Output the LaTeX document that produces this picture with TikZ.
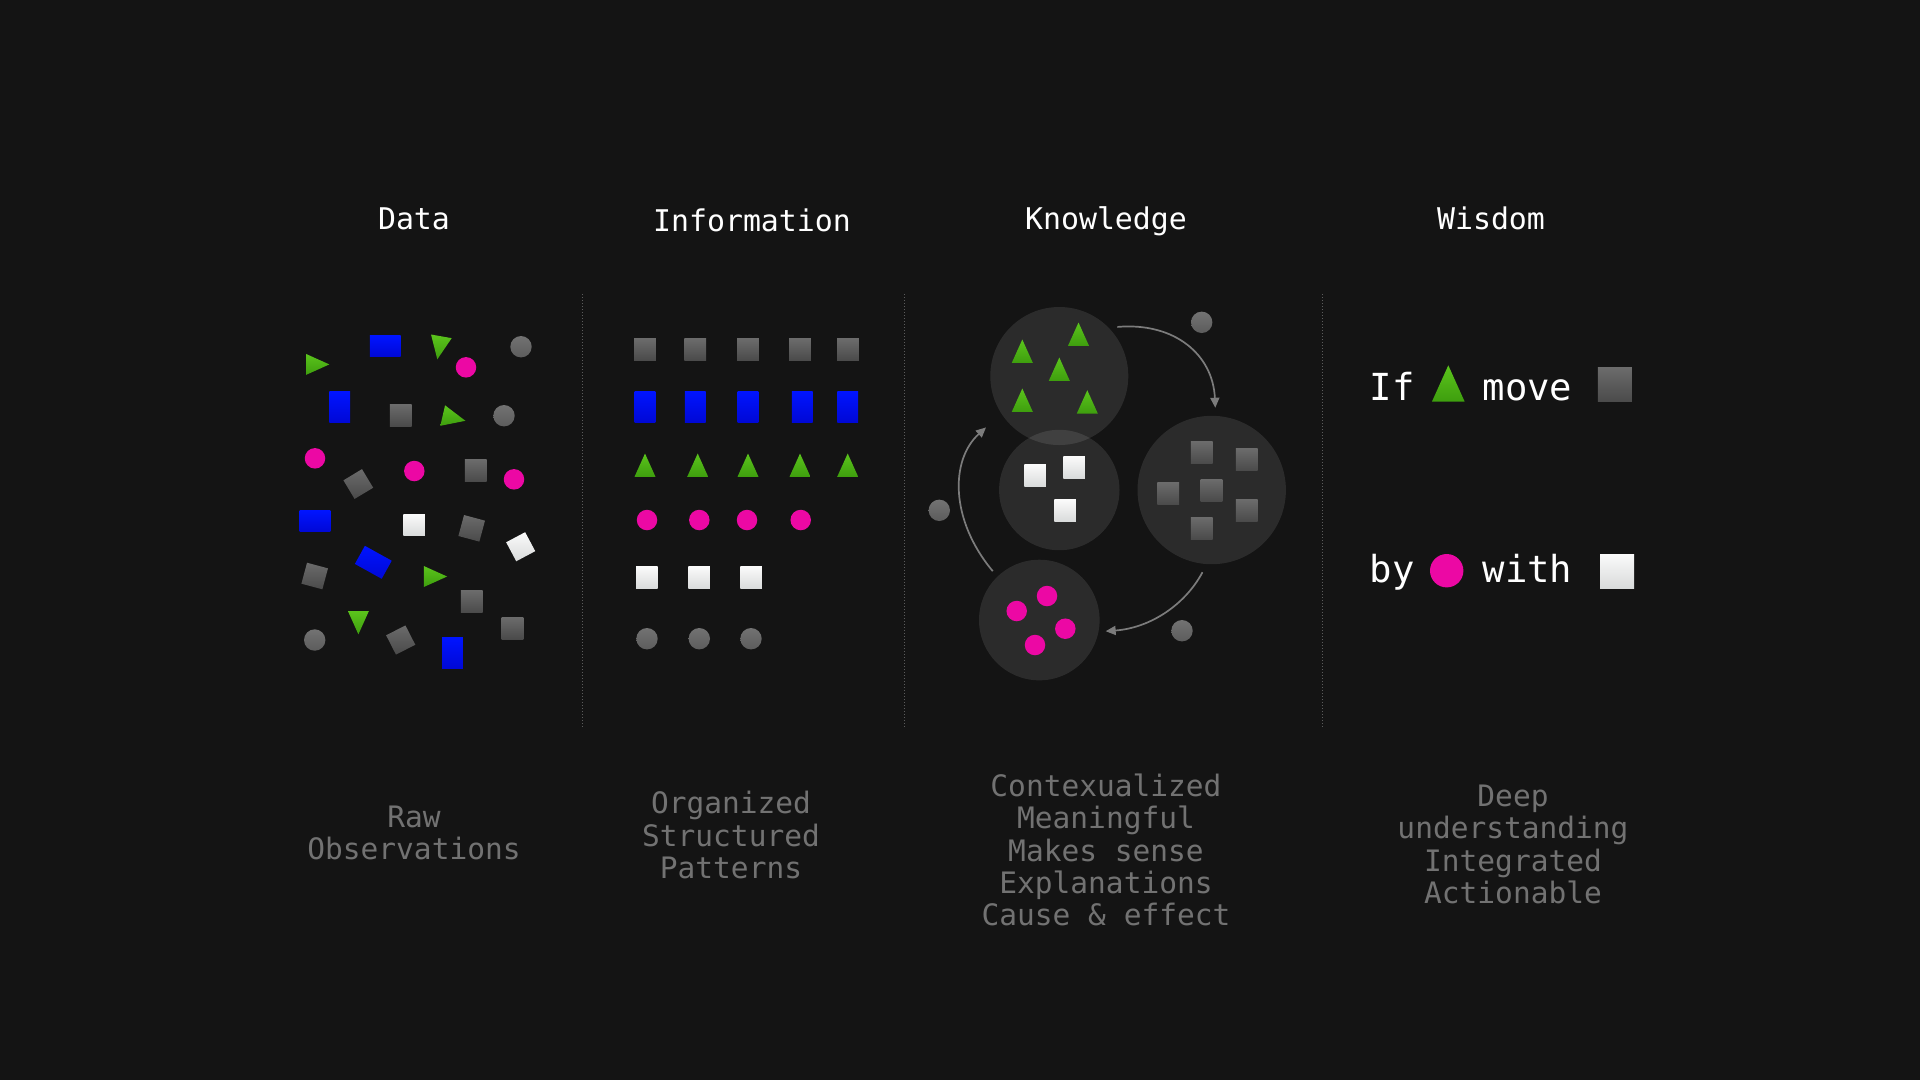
\documentclass[tikz,border=0pt]{standalone}
\usepackage{fontspec}
\setmonofont{DejaVu Sans Mono}
\usetikzlibrary{arrows.meta}
\definecolor{bgc}{HTML}{141414}
\definecolor{grayA}{HTML}{6B6B6B}
\definecolor{grayB}{HTML}{4A4A4A}
\definecolor{whiteA}{HTML}{FAFAFA}
\definecolor{whiteB}{HTML}{D9DBDB}
\definecolor{blueA}{HTML}{0014FF}
\definecolor{blueB}{HTML}{0008D6}
\definecolor{greenA}{HTML}{5BC41C}
\definecolor{greenB}{HTML}{3E9E0E}
\definecolor{pinkc}{HTML}{EC08A4}
\definecolor{txtgray}{HTML}{727272}
\definecolor{sepgray}{HTML}{5C5C5C}
\definecolor{arrgray}{HTML}{7C7C7C}

\begin{document}
\begin{tikzpicture}[x=0.1mm, y=-0.1mm, >=Stealth,
  gsq/.style={rectangle, inner sep=0, minimum size=2.17mm, top color=grayA, bottom color=grayB},
  wsq/.style={rectangle, inner sep=0, minimum size=2.15mm, top color=whiteA, bottom color=whiteB},
  bbox/.style={rectangle, inner sep=0, minimum width=3.07mm, minimum height=2.07mm, top color=blueA, bottom color=blueB},
  pdot/.style={circle, inner sep=0, minimum size=2.05mm, fill=pinkc},
  gdot/.style={circle, inner sep=0, minimum size=2.14mm, top color=grayA!95, bottom color=grayB!90!white},
  head/.style={font=\fontsize{8.5}{10}\selectfont\ttfamily, text=white, inner sep=0, anchor=base},
  note/.style={font=\fontsize{8.4}{9.2}\selectfont\ttfamily, text=txtgray, align=center, inner sep=0},
  wtxt/.style={font=\fontsize{10.6}{12}\selectfont\ttfamily, text=white, inner sep=0, anchor=base west},
  divider/.style={draw=sepgray, line width=0.1mm, dash pattern=on 0.12mm off 0.18mm},
  pool/.style={circle, inner sep=0, fill=white, fill opacity=0.1},
  cyc/.style={draw=arrgray, line width=0.17mm, -{Triangle[length=1mm,width=0.9mm]}},
  tri/.pic={\path[top color=greenA, bottom color=greenB] (0,-15.5) -- (10.5,7.8) -- (-10.5,7.8) -- cycle;}
]
\fill[bgc] (0,0) rectangle (1920,1080);

% headings
\node[head] (hdata) at (414,229.3) {Data};
\node[head] (hinfo) at (752,231.8) {Information};
\node[head] (hknow) at (1106,229.3) {Knowledge};
\node[head] (hwis) at (1491,229.3) {Wisdom};

\draw[divider] (582,294) -- (582,727);
\draw[divider] (904,294) -- (904,727);
\draw[divider] (1322,294) -- (1322,727);

% data
\pic[rotate=-90] at (313.8,364.4) {tri};
\node[bbox] (d2) at (385.3,346.3) {};
\pic[rotate=170] at (440,344) {tri};
\node[pdot] (d4) at (466,367.3) {};
\node[gdot] (d5) at (521,346.7) {};
\node[bbox, rotate=90] (d6) at (339.7,407.3) {};
\node[gsq] (d7) at (400.8,415.5) {};
\pic[rotate=-103] at (450.3,417.3) {tri};
\node[gdot] (d9) at (504,415.7) {};
\node[pdot] (d10) at (315,458.3) {};
\node[gsq, rotate=31] (d11) at (358.3,484) {};
\node[pdot] (d12) at (414.3,471) {};
\node[gsq] (d13) at (475.8,470.8) {};
\node[pdot] (d14) at (514,479.3) {};
\node[bbox] (d15) at (315,521) {};
\node[wsq] (d16) at (414,525) {};
\node[gsq, rotate=-15] (d17) at (471.7,528.3) {};
\node[wsq, rotate=28] (d18) at (520.7,546.7) {};
\node[gsq, rotate=-15] (d19) at (314.7,576) {};
\node[bbox, rotate=-29] (d20) at (373.3,562.3) {};
\pic[rotate=-90] at (431.6,576.5) {tri};
\node[gsq] (d22) at (471.8,601.8) {};
\node[gdot] (d23) at (314.7,640) {};
\pic[rotate=180] at (358.4,618.8) {tri};
\node[gsq, rotate=27] (d25) at (400.7,640) {};
\node[bbox, rotate=90] (d26) at (452.5,653.2) {};
\node[gsq] (d27) at (512.5,628.3) {};

% information
\foreach \x [count=\i] in {645,695.3,748,800,848}
  \node[gsq] (isq\i) at (\x,349.7) {};
\foreach \x [count=\i] in {645,695.3,748,802.3,847.7}
  \node[bbox, rotate=90] (ibl\i) at (\x,406.7) {};
\foreach \x in {645,697.7,748,800,847.7}
  \pic at (\x,469) {tri};
\foreach \x [count=\i] in {647,699.3,747,800.7}
  \node[pdot] (ipk\i) at (\x,520) {};
\foreach \x [count=\i] in {646.8,699,751}
  \node[wsq] (iwh\i) at (\x,577.7) {};
\foreach \x [count=\i] in {647,699.3,751}
  \node[gdot] (igr\i) at (\x,638.7) {};

% knowledge
\node[pool, minimum size=13.8mm] (ktop) at (1059.3,376) {};
\node[pool, minimum size=12.04mm] (kmid) at (1059.3,490) {};
\node[pool, minimum size=14.84mm] (kright) at (1211.7,490) {};
\node[pool, minimum size=12.06mm] (kbot) at (1039.3,620) {};

\pic at (1022.3,355) {tri};
\pic at (1078.5,338) {tri};
\pic at (1059.3,373) {tri};
\pic at (1022.3,404) {tri};
\pic at (1087.3,405.7) {tri};

\node[wsq] (kw1) at (1035,475.7) {};
\node[wsq] (kw2) at (1074.2,467.5) {};
\node[wsq] (kw3) at (1065.2,510.7) {};

\node[gsq] (kg1) at (1201.8,452.8) {};
\node[gsq] (kg2) at (1246.8,459.8) {};
\node[gsq] (kg3) at (1168.2,493.8) {};
\node[gsq] (kg4) at (1211.5,490.5) {};
\node[gsq] (kg5) at (1246.8,510.8) {};
\node[gsq] (kg6) at (1201.8,528.5) {};

\node[pdot] (kp1) at (1047,596) {};
\node[pdot] (kp2) at (1016.7,611) {};
\node[pdot] (kp3) at (1065.3,628.7) {};
\node[pdot] (kp4) at (1035,645) {};

\node[gdot] (ko1) at (1201.7,322.3) {};
\node[gdot] (ko2) at (939.3,510.3) {};
\node[gdot] (ko3) at (1182,630.7) {};

\draw[cyc, shorten <=0.8mm, shorten >=0.75mm] (ktop.44) .. controls (1175,322) and (1213,355) .. (kright.87);
\draw[cyc, shorten <=0.85mm, shorten >=0.65mm] (kright.-94) .. controls (1185,605) and (1150,628) .. (kbot.-11);
\draw[cyc, shorten <=0.65mm, shorten >=2mm] (kbot.134) .. controls (950,520) and (950,460) .. (ktop.213);

% wisdom
\node[wtxt] (wif) at (1369,400) {If};
\pic[scale=1.56] at (1448.3,389.5) {tri};
\node[wtxt] (wmove) at (1482,400) {move};
\node[gsq, minimum size=3.4mm] (wsq1) at (1614.8,384.8) {};
\node[wtxt] (wby) at (1369,582.7) {by};
\node[pdot, minimum size=3.34mm] (wdot) at (1446.7,570.7) {};
\node[wtxt] (wwith) at (1482,582.7) {with};
\node[wsq, minimum size=3.4mm] (wsq2) at (1617,571) {};

% captions
\node[note] (ndata) at (414,833) {Raw\\Observations};
\node[note] (ninfo) at (731,835) {Organized\\Structured\\Patterns};
\node[note] (nknow) at (1106,850) {Contexualized\\Meaningful\\Makes sense\\Explanations\\Cause \& effect};
\node[note] (nwis) at (1513,844.5) {Deep\\understanding\\Integrated\\Actionable};
\end{tikzpicture}
\end{document}
